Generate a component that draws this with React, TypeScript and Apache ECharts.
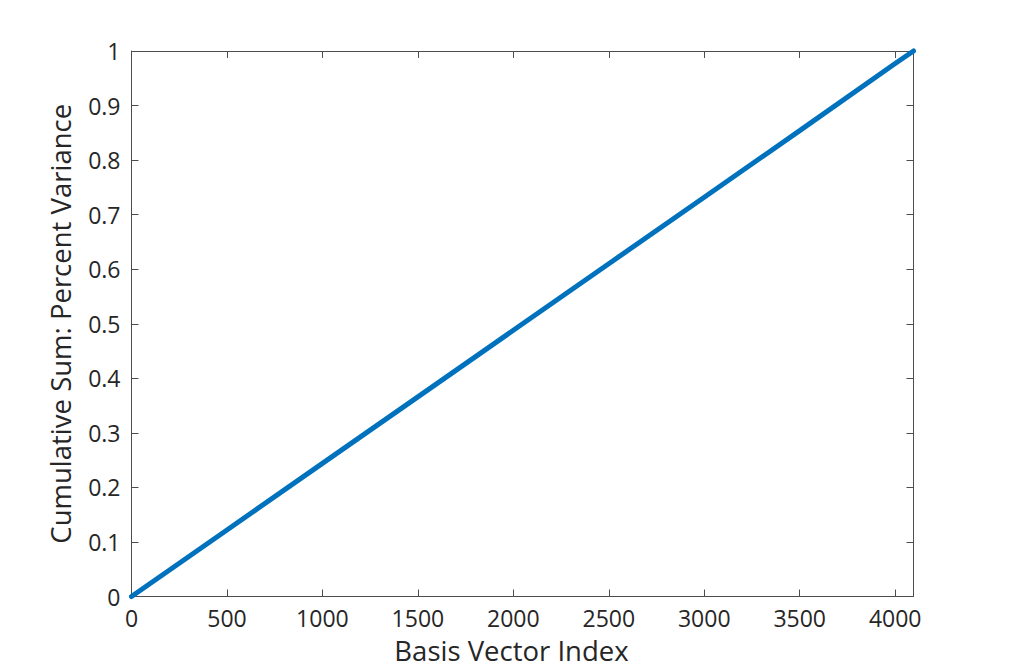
import React, { useEffect, useRef } from "react";
import * as echarts from "echarts";

// Values
const basisIndex = [0, 500, 1000, 1500, 2000, 2500, 3000, 3500, 4000, 4096];
const cumulativeVariance = [0, 0.122, 0.244, 0.366, 0.488, 0.61, 0.732, 0.854, 0.977, 1];
const xTicks = [0, 500, 1000, 1500, 2000, 2500, 3000, 3500, 4000];
const yTicks = [0, 0.1, 0.2, 0.3, 0.4, 0.5, 0.6, 0.7, 0.8, 0.9, 1];

const FONT = "'Open Sans', 'DejaVu Sans', sans-serif";
const TXT = "#262626";
const AX = "#4d4d4d";

export default function App() {
  const ref = useRef<HTMLDivElement>(null);
  useEffect(() => {
    document.body.style.margin = "0";
    const chart = echarts.init(ref.current!, null, { renderer: "svg" });
    const data = basisIndex.map((x, i) => [x, cumulativeVariance[i]]);
    const xMax = basisIndex[basisIndex.length - 1];
    const tickCommon = { show: true, inside: true, length: 7, lineStyle: { color: AX, width: 1 } };
    chart.setOption({
      animation: false,
      backgroundColor: "#ffffff",
      grid: { left: 131.5, top: 51, right: 95.5, bottom: 73.5, containLabel: false },
      xAxis: [
        {
          type: "value",
          min: 0,
          max: xMax,
          interval: 500,
          position: "bottom",
          name: "Basis Vector Index",
          nameLocation: "middle",
          nameGap: 40,
          nameTextStyle: { fontFamily: FONT, fontSize: 27.5, color: TXT, padding: [0, 22, 0, 0] },
          axisLine: { show: true, onZero: false, lineStyle: { color: AX, width: 1 } },
          axisTick: tickCommon,
          axisLabel: {
            fontFamily: FONT,
            fontSize: 23,
            color: TXT,
            margin: 10,
            showMaxLabel: false,
            formatter: (v: number) => (xTicks.includes(v) ? String(v) : ""),
          },
          splitLine: { show: false },
        },
        {
          type: "value",
          min: 0,
          max: xMax,
          interval: 500,
          position: "top",
          axisLine: { show: true, onZero: false, lineStyle: { color: AX, width: 1 } },
          axisTick: tickCommon,
          axisLabel: { show: false },
          splitLine: { show: false },
        },
      ],
      yAxis: [
        {
          type: "value",
          min: 0,
          max: 1,
          interval: 0.1,
          position: "left",
          name: "Cumulative Sum: Percent Variance",
          nameLocation: "middle",
          nameGap: 57,
          nameTextStyle: { fontFamily: FONT, fontSize: 27.5, color: TXT },
          axisLine: { show: true, onZero: false, lineStyle: { color: AX, width: 1 } },
          axisTick: tickCommon,
          axisLabel: {
            fontFamily: FONT,
            fontSize: 23,
            color: TXT,
            margin: 11,
            formatter: (v: number) => {
              const t = yTicks.find((y) => Math.abs(y - v) < 1e-9);
              return t === undefined ? "" : String(t);
            },
          },
          splitLine: { show: false },
        },
        {
          type: "value",
          min: 0,
          max: 1,
          interval: 0.1,
          position: "right",
          axisLine: { show: true, onZero: false, lineStyle: { color: AX, width: 1 } },
          axisTick: tickCommon,
          axisLabel: { show: false },
          splitLine: { show: false },
        },
      ],
      series: [
        {
          type: "line",
          data,
          xAxisIndex: 0,
          yAxisIndex: 0,
          showSymbol: false,
          clip: false,
          lineStyle: { color: "#0072BD", width: 5, cap: "round" },
          itemStyle: { color: "#0072BD" },
        },
      ],
    });
    return () => chart.dispose();
  }, []);
  return (
    <div
      ref={ref}
      style={{ position: "fixed", left: 0, top: 0, width: 1009, height: 670 }}
    />
  );
}
